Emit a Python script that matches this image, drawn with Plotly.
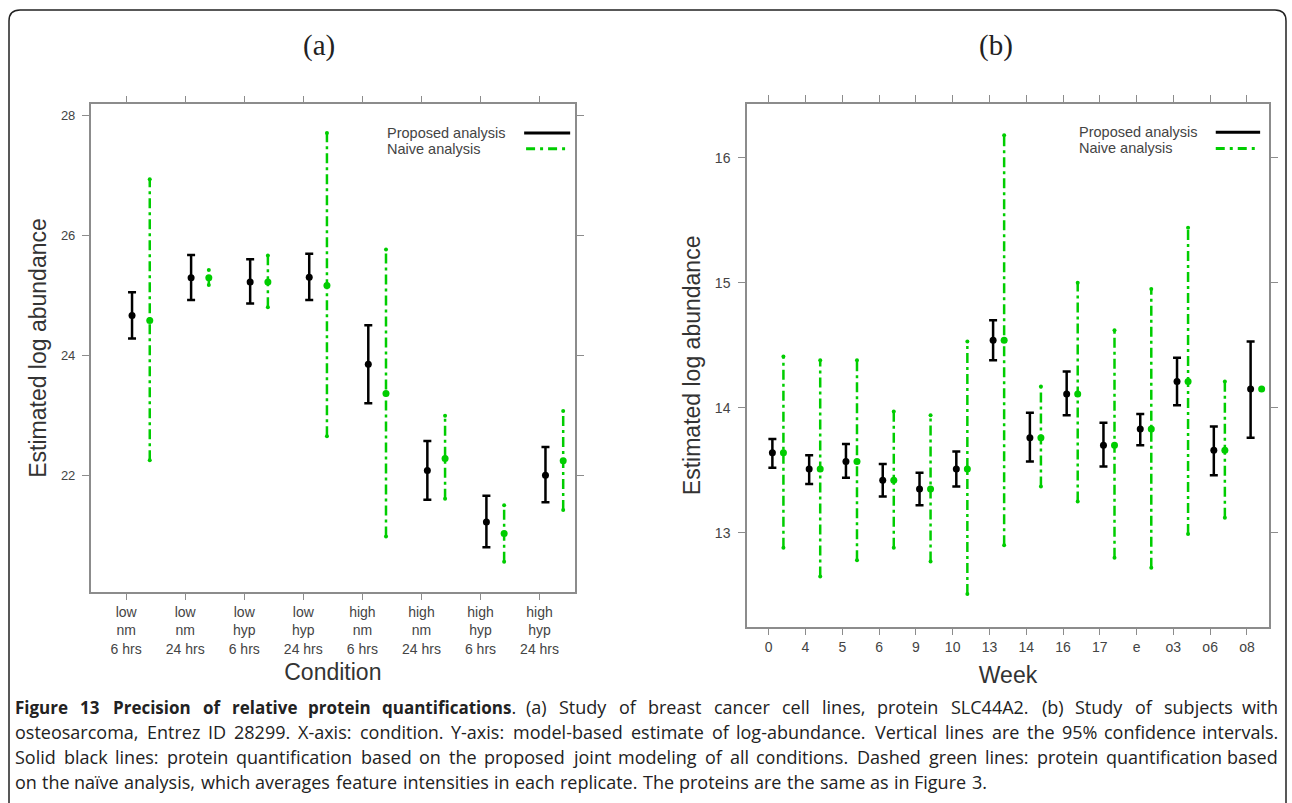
import plotly.graph_objects as go

# ---- data: panel (a), breast cancer cell lines, SLC44A2 ----
conditions = ["low<br>nm<br>6 hrs", "low<br>nm<br>24 hrs", "low<br>hyp<br>6 hrs", "low<br>hyp<br>24 hrs",
              "high<br>nm<br>6 hrs", "high<br>nm<br>24 hrs", "high<br>hyp<br>6 hrs", "high<br>hyp<br>24 hrs"]
a_prop_est = [24.67, 25.30, 25.23, 25.31, 23.86, 22.09, 21.23, 22.01]
a_prop_lo = [24.29, 24.93, 24.87, 24.93, 23.21, 21.60, 20.81, 21.56]
a_prop_hi = [25.06, 25.68, 25.61, 25.70, 24.51, 22.58, 21.67, 22.48]
a_naive_est = [24.59, 25.30, 25.23, 25.17, 23.37, 22.29, 21.04, 22.25]
a_naive_lo = [22.26, 25.18, 24.81, 22.66, 20.99, 21.62, 20.57, 21.43]
a_naive_hi = [26.94, 25.43, 25.67, 27.71, 25.77, 23.00, 21.51, 23.08]

# ---- data: panel (b), osteosarcoma subjects, Entrez 28299 ----
weeks = ["0", "4", "5", "6", "9", "10", "13", "14", "16", "17", "e", "o3", "o6", "o8"]
b_prop_est = [13.64, 13.51, 13.57, 13.42, 13.35, 13.51, 14.54, 13.76, 14.11, 13.70, 13.83, 14.21, 13.66, 14.15]
b_prop_lo = [13.52, 13.39, 13.44, 13.29, 13.22, 13.37, 14.38, 13.57, 13.94, 13.53, 13.70, 14.02, 13.46, 13.76]
b_prop_hi = [13.75, 13.62, 13.71, 13.55, 13.48, 13.65, 14.70, 13.96, 14.29, 13.88, 13.95, 14.40, 13.85, 14.53]
b_naive_est = [13.64, 13.51, 13.57, 13.42, 13.35, 13.51, 14.54, 13.76, 14.11, 13.70, 13.83, 14.21, 13.66, 14.15]
b_naive_lo = [12.88, 12.65, 12.78, 12.88, 12.77, 12.51, 12.90, 13.37, 13.25, 12.80, 12.72, 12.99, 13.12, 14.15]
b_naive_hi = [14.41, 14.38, 14.38, 13.97, 13.94, 14.53, 16.18, 14.17, 15.00, 14.62, 14.95, 15.44, 14.21, 14.15]

# caption, one entry per printed line (the first words of line 1 are bold)
caption_bold = "Figure 13 Precision of relative protein quantifications"
caption_lines = [
    ". (a) Study of breast cancer cell lines, protein SLC44A2. (b) Study of subjects with",
    "osteosarcoma, Entrez ID 28299. X-axis: condition. Y-axis: model-based estimate of log-abundance. "
    "Vertical lines are the 95% confidence intervals.",
    "Solid black lines: protein quantification based on the proposed joint modeling of all conditions. "
    "Dashed green lines: protein quantification based",
    "on the naïve analysis, which averages feature intensities in each replicate. "
    "The proteins are the same as in Figure 3.",
]

GREEN = "#00CD00"
W, H = 1292, 803


def add_panel(fig, n, est, lo, hi, nest, nlo, nhi, xa, ya):
    pos = list(range(1, n + 1))
    # naive analysis: dash-dot intervals with small end dots
    xs, ys = [], []
    for p, l, h in zip(pos, nlo, nhi):
        xs += [p + 0.4, p + 0.4, None]
        ys += [l, h, None]
    fig.add_trace(go.Scatter(x=xs, y=ys, mode="lines+markers", xaxis=xa, yaxis=ya,
                             line=dict(color=GREEN, width=2.5, dash="10px,4px,3px,4px"),
                             marker=dict(color=GREEN, size=4), hoverinfo="skip", showlegend=False))
    fig.add_trace(go.Scatter(x=[p + 0.4 for p in pos], y=nest, mode="markers", xaxis=xa, yaxis=ya,
                             marker=dict(color=GREEN, size=7), showlegend=False))
    # proposed analysis: solid black intervals
    fig.add_trace(go.Scatter(
        x=[p + 0.1 for p in pos], y=est, mode="markers", xaxis=xa, yaxis=ya,
        marker=dict(color="black", size=7),
        error_y=dict(type="data", symmetric=False,
                     array=[h - e for h, e in zip(hi, est)],
                     arrayminus=[e - l for e, l in zip(est, lo)],
                     color="black", thickness=2.5, width=4),
        showlegend=False))


fig = go.Figure()
add_panel(fig, len(conditions), a_prop_est, a_prop_lo, a_prop_hi,
          a_naive_est, a_naive_lo, a_naive_hi, "x", "y")
add_panel(fig, len(weeks), b_prop_est, b_prop_lo, b_prop_hi,
          b_naive_est, b_naive_lo, b_naive_hi, "x2", "y2")


def axis_style(size):
    return dict(showline=True, linecolor="#8c8c8c", linewidth=1.5, mirror="ticks",
                ticks="outside", ticklen=7, tickwidth=1.2, tickcolor="#8c8c8c",
                showgrid=False, zeroline=False,
                tickfont=dict(family="Liberation Sans", color="#444", size=size))


fig.update_layout(
    width=W, height=H,
    margin=dict(l=0, r=0, t=0, b=0),
    paper_bgcolor="white", plot_bgcolor="white",
    font=dict(family="Liberation Sans", color="#333"),
    xaxis=dict(domain=[90.7 / W, 575 / W], range=[0.4, 8.6],
               tickvals=list(range(1, 9)), ticktext=conditions,
               title=dict(text="Condition", font=dict(size=23, color="#333"), standoff=8),
               **axis_style(14)),
    yaxis=dict(domain=[1 - 591.7 / H, 1 - 104.3 / H], range=[20.07, 28.19],
               tickvals=[22, 24, 26, 28], ticklabelstandoff=4,
               title=dict(text="Estimated log abundance", font=dict(size=23, color="#333"), standoff=8),
               **axis_style(13)),
    xaxis2=dict(domain=[747 / W, 1269 / W], range=[0.41, 14.6], anchor="y2",
                tickvals=list(range(1, 15)), ticktext=weeks,
                title=dict(text="Week", font=dict(size=23, color="#333"), standoff=13),
                **axis_style(14)),
    yaxis2=dict(domain=[1 - 626.7 / H, 1 - 104 / H], range=[12.248, 16.43], anchor="x2",
                tickvals=[13, 14, 15, 16], ticklabelstandoff=5,
                title=dict(text="Estimated log abundance", font=dict(size=23, color="#333"), standoff=8),
                **axis_style(14)),
)

# panel titles
for txt, xc in [("(a)", 319), ("(b)", 996)]:
    fig.add_annotation(text=txt, x=xc / W, y=1 - 45 / H, xref="paper", yref="paper",
                       xanchor="center", yanchor="middle", showarrow=False,
                       font=dict(family="Liberation Serif", size=29, color="#222"))

# hand-made legends (text left, line sample right)
for xa, tx, l0, l1, g0, g1, y1, y2 in [("x", 0.608, 0.895, 0.99, 0.899, 0.98, 0.941, 0.909),
                                        ("x2", 0.632, 0.898, 0.983, 0.898, 0.975, 0.946, 0.915)]:
    ya = "y" if xa == "x" else "y2"
    for label, yy in [("Proposed analysis", y1), ("Naive analysis", y2)]:
        fig.add_annotation(text=label, x=tx, y=yy, xref=xa + " domain", yref=ya + " domain",
                           xanchor="left", yanchor="middle", showarrow=False,
                           font=dict(size=14.5, color="#444"))
    fig.add_shape(type="line", x0=l0, x1=l1, y0=y1, y1=y1, xref=xa + " domain", yref=ya + " domain",
                  line=dict(color="black", width=3))
    fig.add_shape(type="line", x0=g0, x1=g1, y0=y2, y1=y2, xref=xa + " domain", yref=ya + " domain",
                  line=dict(color=GREEN, width=3, dash="9px,5px,3px,5px"))

# rounded outer frame
r = 11
x0, x1, y0, y1 = 9, 1286, 10, 815
px = lambda v: v / W
py = lambda v: 1 - v / H
path = (f"M {px(x0)},{py(y1)} L {px(x0)},{py(y0 + r)} Q {px(x0)},{py(y0)} {px(x0 + r)},{py(y0)} "
        f"L {px(x1 - r)},{py(y0)} Q {px(x1)},{py(y0)} {px(x1)},{py(y0 + r)} L {px(x1)},{py(y1)}")
fig.add_shape(type="path", path=path, xref="paper", yref="paper", line=dict(color="#222", width=1.5))

# ---- caption, justified by placing each word (Open Sans advance widths, units/2048) ----
OS_W = {" ": 532, ".": 545, ",": 502, ":": 545, "(": 608, ")": 608, "-": 659, "%": 1654,
        "A": 1296, "C": 1292, "D": 1493, "E": 1139, "F": 1057, "I": 571, "L": 1063, "P": 1251,
        "S": 1124, "T": 1139, "V": 1212, "X": 1178, "Y": 1151,
        "a": 1139, "b": 1255, "c": 975, "d": 1255, "e": 1149, "f": 694, "g": 1122, "h": 1257,
        "i": 518, "j": 518, "k": 1075, "l": 518, "m": 1905, "n": 1257, "o": 1237, "p": 1255,
        "q": 1255, "r": 836, "s": 977, "t": 723, "u": 1257, "v": 1026, "w": 1593, "x": 1073,
        "y": 1028, "z": 977, "ï": 518}
CAP_SIZE, BOLD_SIZE = 18, 17


def text_w(s, size=CAP_SIZE, bold=False):
    w = sum(OS_W.get(c, 1171) for c in s) / 2048 * size * 1.012
    return w * (1.07 if bold else 1.0)


L_EDGE, R_EDGE = 13, 1280
line_y = [707, 732, 757, 782]
for k, (line, yc) in enumerate(zip(caption_lines, line_y)):
    words = []  # (html, width, font size)
    if k == 0:
        bw = caption_bold.split(" ")
        for j, wd in enumerate(bw):
            if j == len(bw) - 1:
                first, rest = line.split(" ", 1)
                words.append((f"<b>{wd}</b><span style='font-size:{CAP_SIZE}px'>{first}</span>",
                               text_w(wd, BOLD_SIZE, True) + text_w(first), BOLD_SIZE))
                line = rest
            else:
                words.append((f"<b>{wd}</b>", text_w(wd, BOLD_SIZE, True), BOLD_SIZE))
    words += [(wd, text_w(wd), CAP_SIZE) for wd in line.split(" ")]
    if k == len(caption_lines) - 1:
        gap = text_w(" ")
    else:
        gap = (R_EDGE - L_EDGE - sum(w for _, w, _ in words)) / (len(words) - 1)
    xx = L_EDGE
    for j, (html, w, fs) in enumerate(words):
        last = k < len(caption_lines) - 1 and j == len(words) - 1
        fig.add_annotation(text=html, x=(R_EDGE if last else xx) / W, y=py(yc), xref="paper", yref="paper",
                           xanchor="right" if last else "left", yanchor="middle", showarrow=False,
                           font=dict(family="Open Sans", size=fs, color="#222"))
        xx += w + gap

fig.write_html("out.html", post_script="document.body.style.margin='0';",
               config={"displayModeBar": False})
